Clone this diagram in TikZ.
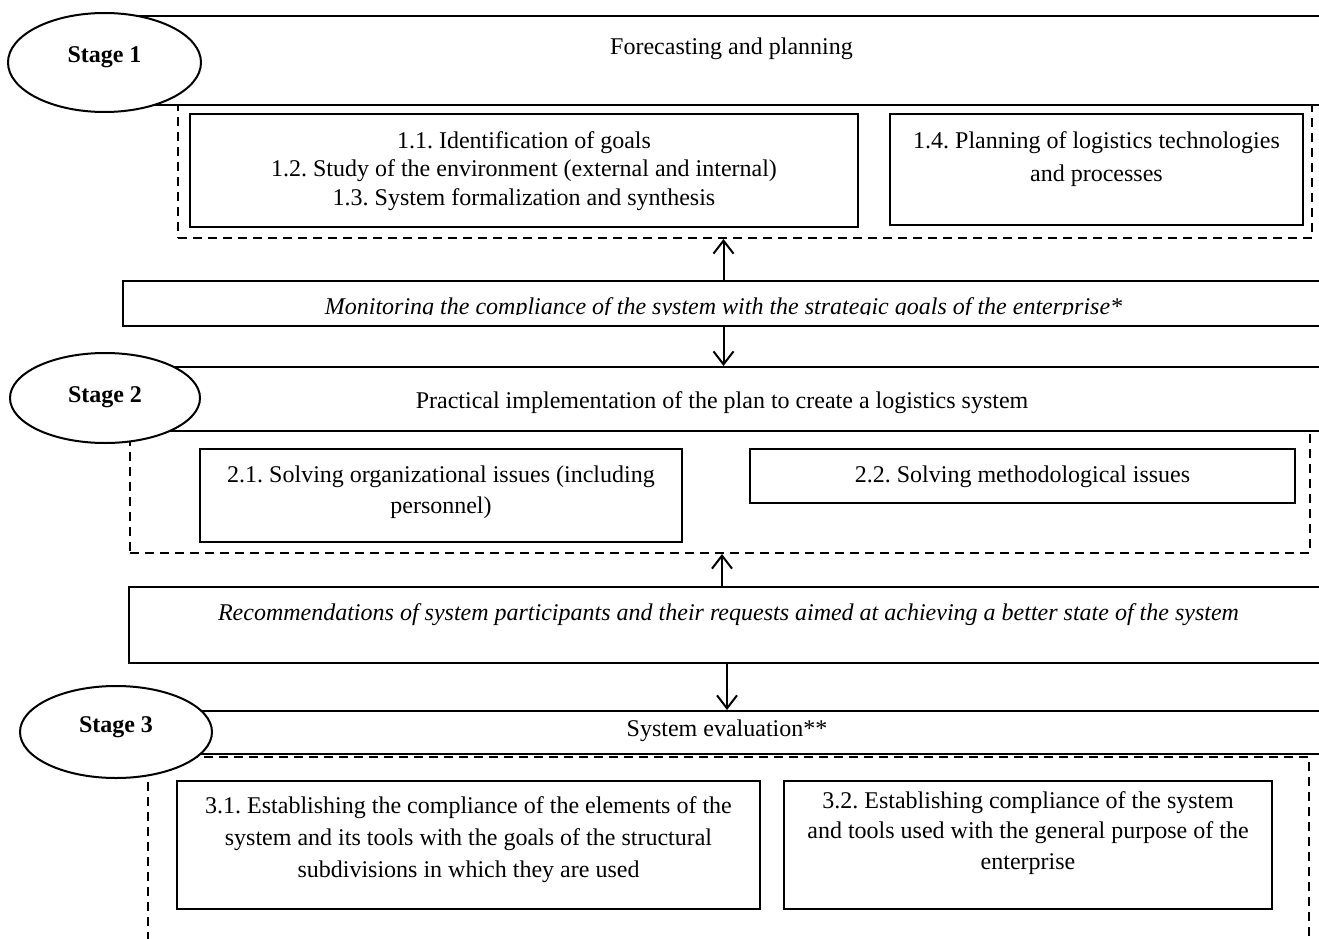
\documentclass[tikz,border=0pt]{standalone}
\usepackage{fontspec}
\setmainfont{Liberation Serif}
\usetikzlibrary{shapes,arrows.meta,positioning}
\newcommand{\boxfont}{\fontsize{24}{31}\selectfont\frenchspacing}

\begin{document}
\begin{tikzpicture}[x=1pt, y=-1pt,
    >={Straight Barb[length=13pt,width=20pt]},
    stagebox/.style={draw, fill=white, line width=2pt, inner sep=0pt, anchor=north, font=\boxfont},
    notebox/.style={stagebox, font=\boxfont\itshape},
    item/.style={stagebox, align=center},
    group/.style={draw, dash pattern=on 9pt off 6pt, line width=2pt, inner sep=0pt},
    stage/.style={ellipse, draw, fill=white, line width=2pt, inner sep=0pt, font=\boxfont\bfseries, text height=17pt, text depth=17pt}]
    \useasboundingbox (0,0) rectangle (1319,939);
    \clip (0,0) rectangle (1319,939);

    % Dashed groups
    \node[group, minimum width=1134pt, minimum height=134pt] (grp1) at (745,171) {};
    \node[group, minimum width=1180pt, minimum height=123pt] (grp2) at (720,491.5) {};
    \node[group, minimum width=1161pt, minimum height=203pt] (grp3) at (728.5,858.5) {};

    % Stage headers
    \node[stagebox, minimum width=1203pt, text height=39pt, text depth=50pt] (hdr1) at (731.5,15) {Forecasting and planning};
    \node[stagebox, minimum width=1204pt, text height=41pt, text depth=23pt] (hdr2) at (722,366) {Practical implementation of the plan to create a logistics system};
    \node[stagebox, minimum width=1194pt, text height=25pt, text depth=18pt] (hdr3) at (727,710) {System evaluation**};

    % Feedback boxes
    \node[stagebox, minimum width=1201pt, minimum height=45pt] (mon) at (723.5,280) {};
    \begin{scope}
        \clip (123,280) rectangle (1319,314);
        \node[notebox, draw=none, fill=none, text height=33pt, text depth=12pt] (montext) at (723.5,280) {Monitoring the compliance of the system with the strategic goals of the enterprise*};
    \end{scope}
    \node[notebox, minimum width=1199pt, text height=33pt, text depth=43pt] (rec) at (728.5,586) {Recommendations of system participants and their requests aimed at achieving a better state of the system};

    % Stage 1 items
    \node[item, minimum width=668pt, text height=91pt, text depth=22pt] (it11) at (524,113) {1.1. Identification of goals\\[-2.5pt] 1.2. Study of the environment (external and internal)\\[-2.5pt] 1.3. System formalization and synthesis};
    \node[item, minimum width=413pt, text height=67pt, text depth=44pt] (it14) at (1096.5,113) {1.4. Planning of logistics technologies\\[2pt] and processes};

    % Stage 2 items
    \node[item, minimum width=482pt, text height=64pt, text depth=29pt] (it21) at (441,448) {2.1. Solving organizational issues (including\\ personnel)};
    \node[item, minimum width=545pt, text height=33pt, text depth=21pt] (it22) at (1022.5,448) {2.2. Solving methodological issues};

    % Stage 3 items
    \node[item, minimum width=583pt, text height=96pt, text depth=32pt] (it31) at (468.5,780) {3.1. Establishing the compliance of the elements of the\\[1pt] system and its tools with the goals of the structural\\[1pt] subdivisions in which they are used};
    \node[item, minimum width=488pt, text height=88pt, text depth=40pt] (it32) at (1028,780) {3.2. Establishing compliance of the system\\[-0.5pt] and tools used with the general purpose of the\\[-0.5pt] enterprise};

    % Stage labels
    \node[stage, minimum width=193pt, minimum height=99pt] (st1) at (104.5,62.5) {Stage 1};
    \node[stage, minimum width=190pt, minimum height=90pt, text height=21pt, text depth=13pt] (st2) at (105,398) {Stage 2};
    \node[stage, minimum width=192pt, minimum height=92pt] (st3) at (116,732) {Stage 3};

    % Connections
    \draw[->, line width=2pt] (mon.north) -- (mon.north |- grp1.south);
    \draw[->, line width=2pt] (mon.south) -- (mon.south |- hdr2.north);
    \draw[->, line width=2pt] (rec.north -| hdr2.north) -- (grp2.south -| hdr2.north);
    \draw[->, line width=2pt] (rec.south -| hdr3.north) -- (hdr3.north);
\end{tikzpicture}
\end{document}
